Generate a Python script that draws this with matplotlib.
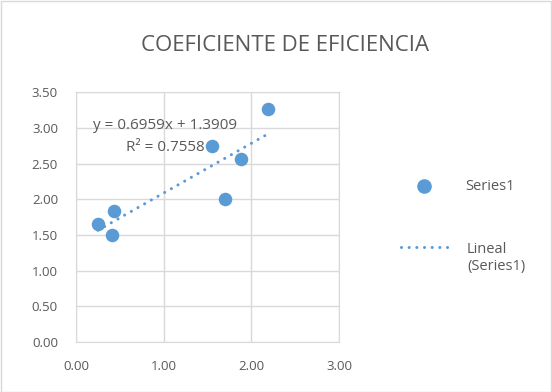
import numpy as np
import matplotlib.pyplot as plt
from matplotlib.lines import Line2D
from matplotlib.patches import Rectangle

x = [0.25, 0.41, 0.43, 1.55, 1.70, 1.88, 2.19]
y = [1.65, 1.50, 1.84, 2.75, 2.00, 2.56, 3.27]
slope = 0.6959
intercept = 1.3909
r2 = 0.7558
title = 'COEFICIENTE DE EFICIENCIA'
xticks = [0, 1, 2, 3]
yticks = [0, 0.5, 1, 1.5, 2, 2.5, 3, 3.5]

blue = '#5B9BD5'
grey = '#595959'
dots = (0, (0.01, 2.5))
plt.rcParams['font.family'] = ['Open Sans', 'DejaVu Sans']

fig = plt.figure(figsize=(5.52, 3.92), dpi=100)
ax = fig.add_axes([0.1377, 0.1276, 0.4765, 0.6374])

ax.scatter(x, y, s=95, color=blue, zorder=3, linewidths=0)
tx = np.array([min(x), max(x)])
ax.plot(tx, slope * tx + intercept, linestyle=dots, color=blue,
        linewidth=2.2, dash_capstyle='round', zorder=2)

ax.set_xlim(0, 3)
ax.set_ylim(0, 3.5)
ax.set_xticks(xticks)
ax.set_yticks(yticks)
ax.set_xticklabels(['%.2f' % v for v in xticks])
ax.set_yticklabels(['%.2f' % v for v in yticks])
ax.grid(True, color='#d9d9d9', linewidth=1)
ax.set_axisbelow(True)
for s in ax.spines.values():
    s.set_color('#d9d9d9')
ax.tick_params(length=0, labelsize=9.5, colors=grey)
ax.tick_params(axis='y', pad=13)
ax.tick_params(axis='x', pad=13)

ax.text(1.015, 3.03, 'y = %.4fx + %.4f' % (slope, intercept), ha='center',
        va='center', fontsize=11, color=grey)
ax.text(1.015, 2.72, 'R² = %.4f' % r2, ha='center', va='center',
        fontsize=11, color=grey)

fig.text(0.516, 0.885, title, ha='center', va='center', fontsize=16, color=grey)

# legend
fig.add_artist(Line2D([424 / 552], [1 - 186 / 392], marker='o', markersize=9.5,
                      color=blue, linestyle='none'))
fig.text(465 / 552, 1 - 187 / 392, 'Series1', va='center', fontsize=10.5, color=grey)
fig.add_artist(Line2D([401 / 552, 453 / 552], [1 - 247 / 392, 1 - 247 / 392],
                      color=blue, linestyle=dots, linewidth=2.2,
                      dash_capstyle='round'))
fig.text(467 / 552, 1 - 258 / 392, 'Lineal\n(Series1)', va='center',
         fontsize=10.5, color=grey, linespacing=1.25)

fig.add_artist(Rectangle((0.001, 0.001), 0.997, 0.997, transform=fig.transFigure,
                         fill=False, edgecolor='#d9d9d9', linewidth=1))

fig.savefig('out.png', dpi=100)
